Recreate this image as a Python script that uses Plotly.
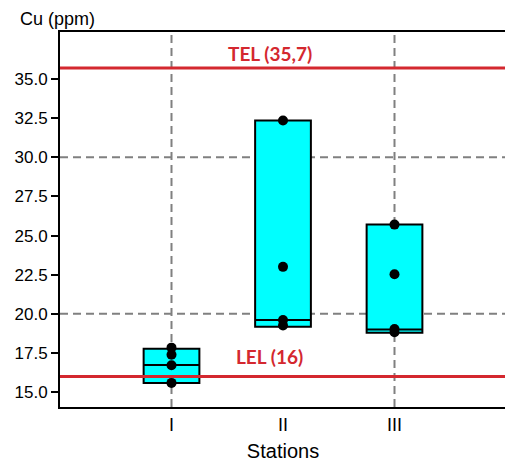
import plotly.graph_objects as go

# Station labels and positions on the x axis
stations = ["I", "II", "III"]
station_pos = [0, 1, 2]

# Measured Cu values per station (ppm)
cu_I = [17.84, 17.39, 16.72, 15.59]
cu_II = [32.35, 23.0, 19.6, 19.25]
cu_III = [25.7, 22.53, 19.03, 18.82]

# Box statistics as drawn in the reference
box_q1 = [15.59, 19.18, 18.8]
box_median = [16.74, 19.6, 19.0]
box_q3 = [17.77, 32.35, 25.71]

# Sediment quality guideline levels
tel = 35.7
lel = 16.0
tel_label = "TEL (35,7)"
lel_label = "LEL (16)"

# Tick values for the y axis and where the dashed grid sits
y_ticks = [15.0, 17.5, 20.0, 22.5, 25.0, 27.5, 30.0, 32.5, 35.0]
grid_y = [20, 30]
grid_x = [0, 2, 3]

red = "#d4282f"
grid_color = "#808080"

fig = go.Figure()

# dashed grid drawn underneath everything
for gy in grid_y:
    fig.add_hline(y=gy, line=dict(color=grid_color, width=2, dash="8px,5px"), layer="below")
for gx in grid_x:
    fig.add_vline(x=gx, line=dict(color=grid_color, width=2, dash="8px,5px"), layer="below")

fig.add_trace(go.Box(
    x=station_pos,
    q1=box_q1,
    median=box_median,
    q3=box_q3,
    lowerfence=box_q1,
    upperfence=box_q3,
    width=0.5,
    fillcolor="#00ffff",
    line=dict(color="black", width=2),
    boxpoints=False,
    hoverinfo="skip",
    showlegend=False,
))

# guideline lines
fig.add_hline(y=tel, line=dict(color=red, width=3))
fig.add_hline(y=lel, line=dict(color=red, width=3))

# individual samples
all_values = [cu_I, cu_II, cu_III]
px = []
py = []
for pos, vals in zip(station_pos, all_values):
    px += [pos] * len(vals)
    py += vals

fig.add_trace(go.Scatter(
    x=px, y=py,
    mode="markers",
    marker=dict(color="black", size=10),
    showlegend=False,
))

fig.add_annotation(x=0.88, y=36.65, text="<b>%s</b>" % tel_label, showarrow=False,
                   font=dict(family="Lato", size=19, color=red))
fig.add_annotation(x=0.88, y=17.25, text="<b>%s</b>" % lel_label, showarrow=False,
                   font=dict(family="Lato", size=19, color=red))

# y axis title sits top-left, above the plot
fig.add_annotation(xref="paper", yref="paper", x=-0.094, y=1.062,
                   xanchor="left", yanchor="top", yshift=2, text="Cu (ppm)", showarrow=False,
                   font=dict(family="Liberation Sans", size=18, color="black"))

# page body has an 8px margin, so the figure is trimmed to fit
fig.update_layout(
    width=505,
    height=458,
    margin=dict(l=43, r=7, t=24, b=58),
    plot_bgcolor="white",
    paper_bgcolor="white",
    font=dict(family="Liberation Sans", size=17, color="black"),
    xaxis=dict(
        range=[-1, 3],
        tickvals=station_pos,
        ticktext=stations,
        tickfont=dict(size=18),
        showgrid=False,
        zeroline=False,
        showline=True,
        linecolor="black",
        linewidth=2,
        mirror=True,
        ticks="",
        title=dict(text="Stations", font=dict(size=20), standoff=10),
    ),
    yaxis=dict(
        range=[14.05, 38.0],
        tickvals=y_ticks,
        tickformat=".1f",
        showgrid=False,
        zeroline=False,
        showline=True,
        linecolor="black",
        linewidth=2,
        ticks="outside",
        ticklen=7,
        tickwidth=2,
        tickcolor="black",
    ),
)

fig.write_html("out.html")
